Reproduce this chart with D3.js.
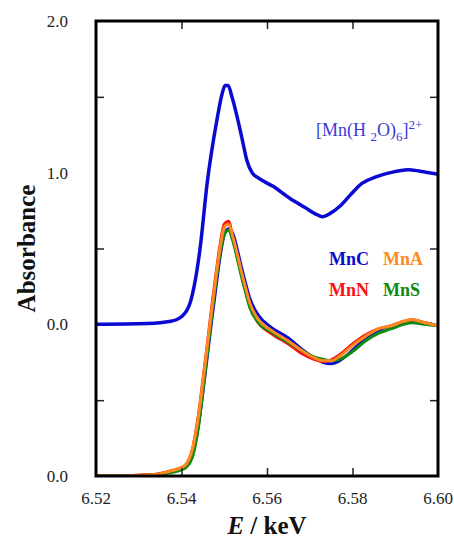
<!DOCTYPE html>
<html>
<head>
<meta charset="utf-8">
<script src="https://cdn.jsdelivr.net/npm/d3@7"></script>
<style>
  body { margin: 0; background: #fff; }
</style>
</head>
<body>
<svg id="chart" width="454" height="544"></svg>
<script>
// upper spectrum: [Mn(H2O)6]2+
const hexE = [6.520, 6.532, 6.5375, 6.540, 6.542, 6.5443, 6.546, 6.5483, 6.5495, 6.5502, 6.5509,
  6.5518, 6.553, 6.5542, 6.5553, 6.5565, 6.5577, 6.5614, 6.5654, 6.5689, 6.5712, 6.5729,
  6.5747, 6.5771, 6.5794, 6.5822, 6.5853, 6.5888, 6.593, 6.5958, 6.600];
const hexA = [0.00, 0.005, 0.02, 0.05, 0.14, 0.49, 0.93, 1.35, 1.52, 1.575, 1.575,
  1.50, 1.37, 1.22, 1.08, 1.00, 0.97, 0.91, 0.83, 0.77, 0.73, 0.71,
  0.73, 0.78, 0.85, 0.93, 0.97, 1.00, 1.02, 1.01, 0.99];

// lower spectra (drawn offset by -1)
const lowE = [6.520, 6.526, 6.530, 6.534, 6.537, 6.5395, 6.541, 6.5425, 6.544, 6.545, 6.546,
  6.547, 6.548, 6.549, 6.550, 6.551, 6.552, 6.553, 6.554, 6.555, 6.556, 6.558, 6.561,
  6.565, 6.568, 6.571, 6.573, 6.575, 6.577, 6.580, 6.583, 6.586, 6.589, 6.592, 6.594,
  6.597, 6.600];
const mnC = [0, 0, 0.004, 0.01, 0.025, 0.045, 0.065, 0.14, 0.34, 0.55, 0.78, 1.01, 1.23, 1.44,
  1.59, 1.63, 1.60, 1.50, 1.38, 1.27, 1.17, 1.06, 0.98, 0.91, 0.84, 0.78, 0.75, 0.74, 0.76,
  0.83, 0.91, 0.96, 0.99, 1.01, 1.02, 1.01, 0.99];
const mnN = [0, 0, 0.006, 0.012, 0.03, 0.05, 0.075, 0.17, 0.41, 0.63, 0.86, 1.10, 1.32, 1.52,
  1.66, 1.68, 1.57, 1.45, 1.33, 1.22, 1.12, 1.01, 0.94, 0.87, 0.81, 0.77, 0.755, 0.765, 0.80,
  0.87, 0.93, 0.97, 0.99, 1.02, 1.03, 1.01, 0.99];
const mnS = [0, 0, 0.003, 0.008, 0.02, 0.035, 0.055, 0.12, 0.33, 0.56, 0.80, 1.04, 1.27, 1.46,
  1.59, 1.62, 1.55, 1.44, 1.32, 1.21, 1.11, 1.01, 0.95, 0.88, 0.83, 0.785, 0.77, 0.76, 0.77,
  0.82, 0.89, 0.94, 0.97, 1.00, 1.01, 1.00, 0.99];
const mnA = [0, 0, 0.005, 0.01, 0.03, 0.05, 0.075, 0.17, 0.40, 0.62, 0.85, 1.08, 1.30, 1.50,
  1.64, 1.66, 1.58, 1.47, 1.35, 1.24, 1.14, 1.03, 0.96, 0.89, 0.83, 0.78, 0.76, 0.76, 0.79,
  0.86, 0.92, 0.97, 0.99, 1.02, 1.03, 1.01, 0.99];

const xTicks = [6.52, 6.54, 6.56, 6.58, 6.60];
const yLabels = [[-1, '0.0'], [0, '0.0'], [1, '1.0'], [2, '2.0']];
const yMinor = [-0.5, 0.5, 1.5];

const lowSeries = [
  { name: 'MnC', values: mnC, color: '#0a0ad2' },
  { name: 'MnN', values: mnN, color: '#ff1010' },
  { name: 'MnS', values: mnS, color: '#108a10' },
  { name: 'MnA', values: mnA, color: '#ff8a20' }
];

const serif = '"Liberation Serif", "DejaVu Serif", serif';
const margin = { top: 21, right: 16, bottom: 68, left: 96 };
const width = 454, height = 544;

const svg = d3.select('#chart').attr('font-family', serif);

const x = d3.scaleLinear()
  .domain([6.52, 6.60])
  .range([margin.left, width - margin.right]);
const y = d3.scaleLinear()
  .domain([-1, 2])
  .range([height - margin.bottom, margin.top]);

svg.append('clipPath').attr('id', 'plot')
  .append('rect')
  .attr('x', x(6.52)).attr('y', y(2))
  .attr('width', x(6.60) - x(6.52)).attr('height', y(-1) - y(2));

const line = d3.line()
  .x(d => x(d[0]))
  .y(d => y(d[1]))
  .curve(d3.curveMonotoneX);

const plot = svg.append('g').attr('clip-path', 'url(#plot)');

plot.append('path')
  .datum(hexE.map((e, i) => [e, hexA[i]]))
  .attr('d', line)
  .attr('fill', 'none')
  .attr('stroke', '#0a0ad2')
  .attr('stroke-width', 3.5)
  .attr('stroke-linejoin', 'round');

lowSeries.forEach(s => {
  plot.append('path')
    .datum(lowE.map((e, i) => [e, s.values[i] - 1]))
    .attr('d', line)
    .attr('fill', 'none')
    .attr('stroke', s.color)
    .attr('stroke-width', 3)
    .attr('stroke-linejoin', 'round');
});

// inward ticks, all four sides
const tickLen = 8;
const inner = xTicks.slice(1, -1);
const bottomAxis = d3.axisBottom(x).tickValues(inner).tickSize(-tickLen).tickFormat('');
const topAxis = d3.axisTop(x).tickValues(inner).tickSize(-tickLen).tickFormat('');
const leftAxis = d3.axisLeft(y).tickValues(yMinor).tickSize(-tickLen).tickFormat('');
const rightAxis = d3.axisRight(y).tickValues(yMinor).tickSize(-tickLen).tickFormat('');

[
  [bottomAxis, `translate(0,${y(-1)})`],
  [topAxis, `translate(0,${y(2)})`],
  [leftAxis, `translate(${x(6.52)},0)`],
  [rightAxis, `translate(${x(6.60)},0)`]
].forEach(([axis, t]) => {
  const g = svg.append('g').attr('transform', t).call(axis);
  g.select('.domain').remove();
  g.selectAll('.tick line').attr('stroke', '#222').attr('stroke-width', 1.5);
});

svg.append('rect')
  .attr('x', x(6.52)).attr('y', y(2))
  .attr('width', x(6.60) - x(6.52)).attr('height', y(-1) - y(2))
  .attr('fill', 'none')
  .attr('stroke', '#000')
  .attr('stroke-width', 3);

// tick labels
svg.append('g').selectAll('text')
  .data(xTicks)
  .join('text')
  .attr('x', d => x(d))
  .attr('y', y(-1) + 28)
  .attr('text-anchor', 'middle')
  .attr('font-size', 17)
  .attr('fill', '#222')
  .text(d => d3.format('.2f')(d));

svg.append('g').selectAll('text')
  .data(yLabels)
  .join('text')
  .attr('x', x(6.52) - 28)
  .attr('y', d => y(d[0]))
  .attr('dy', '0.35em')
  .attr('text-anchor', 'end')
  .attr('font-size', 17)
  .attr('fill', '#222')
  .text(d => d[1]);

// axis titles
svg.append('text')
  .attr('transform', `translate(35,${(y(2) + y(-1)) / 2}) rotate(-90)`)
  .attr('text-anchor', 'middle')
  .attr('font-size', 25)
  .attr('font-weight', 'bold')
  .attr('fill', '#111')
  .text('Absorbance');

const xt = svg.append('text')
  .attr('x', (x(6.52) + x(6.60)) / 2)
  .attr('y', height - 10)
  .attr('text-anchor', 'middle')
  .attr('font-size', 25)
  .attr('font-weight', 'bold')
  .attr('fill', '#111');
xt.append('tspan').attr('font-style', 'italic').text('E');
xt.append('tspan').text(' / keV');

// complex label
const hex = svg.append('text')
  .attr('x', 316)
  .attr('y', 136)
  .attr('font-size', 18)
  .attr('fill', '#3a3ad8');
hex.append('tspan').text('[Mn(H ');
hex.append('tspan').attr('font-size', 13).attr('dy', 5).text('2');
hex.append('tspan').attr('dy', -5).text('O)');
hex.append('tspan').attr('font-size', 13).attr('dy', 5).text('6');
hex.append('tspan').attr('dy', -5).text(']');
hex.append('tspan').attr('font-size', 13).attr('dy', -7).text('2+');

// series labels
const legendPos = { MnC: [329, 265], MnA: [383, 265], MnN: [329, 296], MnS: [383, 296] };
svg.append('g').selectAll('text')
  .data(lowSeries)
  .join('text')
  .attr('x', d => legendPos[d.name][0])
  .attr('y', d => legendPos[d.name][1])
  .attr('font-size', 18)
  .attr('font-weight', 'bold')
  .attr('fill', d => d.color)
  .text(d => d.name);
</script>
</body>
</html>
